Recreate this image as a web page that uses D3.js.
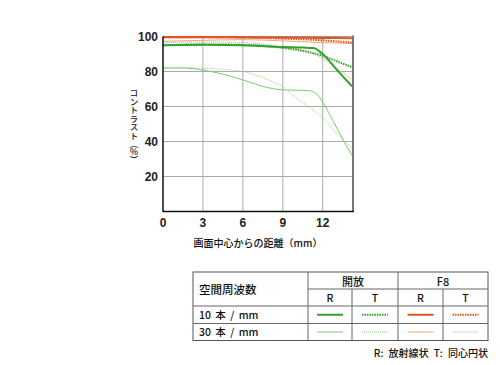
<!DOCTYPE html>
<html>
<head>
  <meta charset="utf-8" />
  <script src="https://d3js.org/d3.v7.min.js"></script>
  <style>
    body{margin:0;background:#fff;}
    svg{display:block;}
    .num{font-family:"Liberation Sans",Arial,sans-serif;font-weight:bold;font-size:12px;fill:#222;}
    .jp{font-family:"Noto Sans CJK JP",sans-serif;fill:#111;font-weight:500;}
  </style>
</head>
<body>
<script>
// image height (mm) and MTF contrast (%)
var xTicks = [0, 3, 6, 9, 12];
var yTicks = [20, 40, 60, 80, 100];

var open10R = [[0,95],[3,95.3],[6,95],[9,94],[10.5,93.7],[11.3,93.4],[12,90],[13,81.5],[14.2,71.5]];
var open10T = [[0,95],[3,95.5],[6,95.2],[9,93.5],[11,91],[12,89],[13,86],[14.2,82.5]];
var open30R = [[0,82],[1.5,82],[3,80.8],[4.5,78.5],[6,75.2],[7.5,71.5],[9,69.5],[10,69.3],[11,69],[11.5,67.5],[12,62.5],[12.8,51.5],[13.6,40],[14.2,32]];
var open30T = [[0,82],[1.5,82.3],[3,81.8],[5,81],[6,80],[7.5,76.5],[9,71],[10,65],[11,59.5],[12,53.5],[13,45],[14.2,36.5]];
var f8_10R = [[0,99.7],[3,99.7],[6,99.6],[9,99.4],[12,99.2],[14.2,99]];
var f8_10T = [[0,99.4],[3,99.5],[6,99.3],[9,98.8],[12,97.8],[14.2,96.5]];
var f8_30R = [[0,97.3],[3,97.8],[6,98.2],[9,97.5],[12,96.5],[14.2,96]];
var f8_30T = [[0,96.5],[3,96.8],[6,96.5],[9,94],[11,91],[12,87.5],[13,82],[14.2,75.5]];

var series = [
  {data:open30R, color:"#7ccc6c", w:1, dash:null},
  {data:open30T, color:"#8fd680", w:1, dash:"1,1"},
  {data:f8_30R, color:"#f5a57a", w:1, dash:null},
  {data:f8_30T, color:"#f5a57a", w:1.2, dash:"1,1"},
  {data:open10T, color:"#2ca42c", w:2, dash:"1.5,1"},
  {data:open10R, color:"#2ca42c", w:2, dash:null},
  {data:f8_10T, color:"#e2561e", w:2, dash:"1.5,1"},
  {data:f8_10R, color:"#e2561e", w:2, dash:null}
];

var svg = d3.select("body").append("svg").attr("width",500).attr("height",365);

var x = d3.scaleLinear().domain([0,14.2]).range([163,352]);
var y = d3.scaleLinear().domain([0,100]).range([211.5,36.5]);

// grid
svg.append("g").selectAll("line").data(xTicks.slice(1)).enter().append("line")
  .attr("x1",function(d){return x(d)}).attr("x2",function(d){return x(d)})
  .attr("y1",y(0)).attr("y2",y(100)).attr("stroke","#aaa").attr("stroke-width",1);
svg.append("g").selectAll("line").data(yTicks.slice(0,4)).enter().append("line")
  .attr("y1",function(d){return y(d)}).attr("y2",function(d){return y(d)})
  .attr("x1",x(0)).attr("x2",x(14.2)).attr("stroke","#aaa").attr("stroke-width",1);
svg.append("line").attr("x1",x(0)).attr("x2",x(14.2)).attr("y1",y(100)).attr("y2",y(100))
  .attr("stroke","#999").attr("stroke-width",1);
svg.append("line").attr("x1",x(14.2)+1).attr("x2",x(14.2)+1).attr("y1",y(100)-1).attr("y2",y(0))
  .attr("stroke","#777").attr("stroke-width",2);

// curves
var line = d3.line().x(function(d){return x(d[0])}).y(function(d){return y(d[1])}).curve(d3.curveMonotoneX);
svg.append("g").selectAll("path").data(series).enter().append("path")
  .attr("d",function(d){return line(d.data)})
  .attr("fill","none").attr("stroke",function(d){return d.color})
  .attr("stroke-width",function(d){return d.w})
  .attr("stroke-dasharray",function(d){return d.dash});

// axes frame
svg.append("line").attr("x1",x(0)).attr("x2",x(0)).attr("y1",y(100)).attr("y2",y(0)+0.5)
  .attr("stroke","#111").attr("stroke-width",1.5);
svg.append("line").attr("x1",x(0)).attr("x2",x(14.2)+2).attr("y1",y(0)).attr("y2",y(0))
  .attr("stroke","#111").attr("stroke-width",1.5);

// tick labels
svg.append("g").selectAll("text").data(yTicks).enter().append("text")
  .attr("class","num").attr("x",158).attr("y",function(d){return y(d)+4.5})
  .attr("text-anchor","end").text(function(d){return d});
svg.append("g").selectAll("text").data(xTicks).enter().append("text")
  .attr("class","num").attr("x",function(d){return x(d)}).attr("y",227)
  .attr("text-anchor","middle").text(function(d){return d});

// axis titles
svg.append("text").attr("class","jp").attr("x",258).attr("y",247)
  .attr("text-anchor","middle").style("font-size","10px").text("画面中心からの距離（mm）");
svg.append("text").attr("class","jp").attr("x",134).attr("y",89)
  .style("font-size","8.5px").style("writing-mode","vertical-rl")
  .text("コントラスト（");
svg.append("text").attr("class","jp").attr("x",134).attr("y",155)
  .attr("text-anchor","middle").style("font-size","8.5px").text("%");
svg.append("text").attr("class","jp").attr("x",134).attr("y",155.5)
  .style("font-size","8.5px").style("writing-mode","vertical-rl").text("）");

// legend table
var colX = [193, 308, 352, 398, 443, 488];
var rowY = [272, 289, 306, 323.5, 340.5];
var tg = svg.append("g");
tg.append("rect").attr("x",colX[0]).attr("y",rowY[0]).attr("width",colX[5]-colX[0]).attr("height",rowY[4]-rowY[0])
  .attr("fill","none").attr("stroke","#555");
tg.append("line").attr("x1",colX[1]).attr("x2",colX[5]).attr("y1",rowY[1]).attr("y2",rowY[1]).attr("stroke","#666");
[2,3].forEach(function(i){
  tg.append("line").attr("x1",colX[0]).attr("x2",colX[5]).attr("y1",rowY[i]).attr("y2",rowY[i]).attr("stroke","#666");
});
tg.append("line").attr("x1",colX[1]).attr("x2",colX[1]).attr("y1",rowY[0]).attr("y2",rowY[4]).attr("stroke","#666");
tg.append("line").attr("x1",colX[3]).attr("x2",colX[3]).attr("y1",rowY[0]).attr("y2",rowY[4]).attr("stroke","#666");
[2,4].forEach(function(i){
  tg.append("line").attr("x1",colX[i]).attr("x2",colX[i]).attr("y1",rowY[1]).attr("y2",rowY[4]).attr("stroke","#666");
});

var heads = ["開放","F8"];
var subs = ["R","T","R","T"];
var rows = ["10 本 / mm","30 本 / mm"];
tg.append("text").attr("class","jp").attr("x",199).attr("y",294).style("font-size","11.5px").text("空間周波数");
heads.forEach(function(h,i){
  tg.append("text").attr("class","jp").attr("x",(colX[1+2*i]+colX[3+2*i])/2).attr("y",285.5)
    .attr("text-anchor","middle").style("font-size","11px").text(h);
});
subs.forEach(function(s,i){
  tg.append("text").attr("class","jp").attr("x",(colX[1+i]+colX[2+i])/2).attr("y",302)
    .attr("text-anchor","middle").style("font-size","10.5px").text(s);
});
rows.forEach(function(r,i){
  tg.append("text").attr("class","jp").attr("x",199).attr("y",rowY[2+i]+12.5)
    .style("font-size","10.5px").style("word-spacing","2px").text(r);
});
var samples = [
  [series[5],series[4],series[7],series[6]],
  [series[0],series[1],series[2],series[3]]
];
samples.forEach(function(rowS,r){
  rowS.forEach(function(s,c){
    var cx = (colX[1+c]+colX[2+c])/2, cy = (rowY[2+r]+rowY[3+r])/2;
    tg.append("line").attr("x1",cx-13).attr("x2",cx+13).attr("y1",cy).attr("y2",cy)
      .attr("stroke",s.color).attr("stroke-width",s.w).attr("stroke-dasharray",s.dash);
  });
});
svg.append("text").attr("class","jp").attr("x",488).attr("y",357).attr("text-anchor","end")
  .style("font-size","10px").style("word-spacing","3px").text("R: 放射線状 T: 同心円状");
</script>
</body>
</html>
